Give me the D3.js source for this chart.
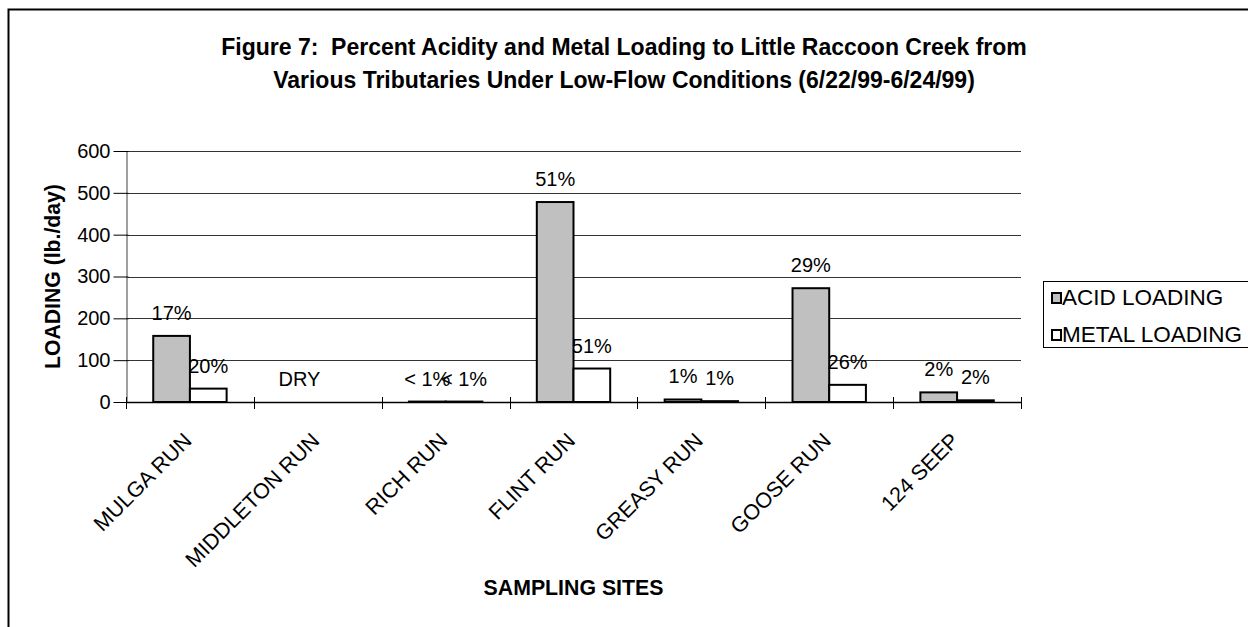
<!DOCTYPE html>
<html>
<head>
<meta charset="utf-8">
<script src="https://cdn.jsdelivr.net/npm/d3@7"></script>
<style>
  html, body { margin: 0; padding: 0; background: #fff; }
  svg { display: block; font-family: "Liberation Sans", Arial, sans-serif; }
  text { white-space: pre; }
</style>
</head>
<body>
<svg id="chart" width="1248" height="627"></svg>
<script>
// Sampling sites along Little Raccoon Creek
const sites = ["MULGA RUN", "MIDDLETON RUN", "RICH RUN", "FLINT RUN", "GREASY RUN", "GOOSE RUN", "124 SEEP"];
// Loadings in lb./day
const acidLoading = [158, 0, 1, 478, 6, 272, 23];
const metalLoading = [32, 0, 1, 80, 2, 41, 4];
// Percent-of-total labels shown above each bar
const acidLabels = ["17%", "DRY", "< 1%", "51%", "1%", "29%", "2%"];
const metalLabels = ["20%", "", "< 1%", "51%", "1%", "26%", "2%"];
const yTicks = [0, 100, 200, 300, 400, 500, 600];
const seriesNames = ["ACID LOADING", "METAL LOADING"];
const seriesFill = ["#c0c0c0", "#ffffff"];

const svg = d3.select("#chart");
const plot = { left: 126, right: 1021, top: 151, bottom: 402 };

// outer chart frame
svg.append("rect")
  .attr("x", 8.5).attr("y", 9.5)
  .attr("width", 1260).attr("height", 640)
  .attr("fill", "none").attr("stroke", "#000").attr("stroke-width", 2);

// title
const title = svg.append("text")
  .attr("text-anchor", "middle")
  .attr("font-weight", "bold")
  .attr("font-size", 23);
title.append("tspan").attr("x", 624).attr("y", 55)
  .text("Figure 7:  Percent Acidity and Metal Loading to Little Raccoon Creek from");
title.append("tspan").attr("x", 624).attr("y", 88)
  .text("Various Tributaries Under Low-Flow Conditions (6/22/99-6/24/99)");

const x = d3.scaleBand().domain(sites).range([plot.left, plot.right]).padding(0);
const y = d3.scaleLinear().domain([0, 600]).range([plot.bottom, plot.top]);
const step = x.bandwidth();
const barW = step * 0.287;
const groupOffset = (step - 2 * barW) / 2;

// gridlines
svg.append("g")
  .selectAll("line")
  .data(yTicks.filter(d => d > 0))
  .join("line")
  .attr("x1", plot.left).attr("x2", plot.right)
  .attr("y1", d => Math.round(y(d)) + 0.5).attr("y2", d => Math.round(y(d)) + 0.5)
  .attr("stroke", "#333").attr("stroke-width", 1);

// y axis
const yAxis = svg.append("g")
  .attr("transform", `translate(${plot.left + 0.5},0)`)
  .call(d3.axisLeft(y).tickValues(yTicks).tickSize(0).tickPadding(16));
yAxis.select(".domain").attr("stroke", "#808080").attr("stroke-width", 1.5);
yAxis.selectAll(".tick text")
  .attr("font-size", 20).attr("fill", "#000")
  .attr("font-family", "Liberation Sans, Arial, sans-serif");
yAxis.selectAll(".tick").append("line")
  .attr("x1", -13).attr("x2", 2).attr("stroke", "#000");

// bars
const rows = sites.map((s, i) => ({ site: s, values: [acidLoading[i], metalLoading[i]], labels: [acidLabels[i], metalLabels[i]] }));
const groups = svg.append("g").selectAll("g")
  .data(rows)
  .join("g")
  .attr("transform", d => `translate(${x(d.site) + groupOffset},0)`);

groups.selectAll("rect")
  .data(d => d.values.map((v, k) => ({ v, k })))
  .join("rect")
  .filter(d => d.v > 0)
  .attr("x", d => d.k * barW)
  .attr("y", d => y(d.v))
  .attr("width", barW)
  .attr("height", d => y(0) - y(d.v))
  .attr("fill", d => seriesFill[d.k])
  .attr("stroke", "#000")
  .attr("stroke-width", 2);

// data labels
groups.selectAll("text")
  .data(d => d.labels.map((t, k) => ({ t, k, v: d.values[k] })))
  .join("text")
  .attr("x", d => d.k * barW + barW / 2)
  .attr("y", d => y(d.v) - 16)
  .attr("text-anchor", "middle")
  .attr("font-size", 20)
  .text(d => d.t);

// x axis line and category ticks
svg.append("line")
  .attr("x1", plot.left).attr("x2", plot.right)
  .attr("y1", plot.bottom + 0.5).attr("y2", plot.bottom + 0.5)
  .attr("stroke", "#000").attr("stroke-width", 1.5);
const boundaries = sites.map(s => x(s)).concat([plot.right]);
svg.append("g").selectAll("line")
  .data(boundaries)
  .join("line")
  .attr("x1", d => Math.round(d) + 0.5).attr("x2", d => Math.round(d) + 0.5)
  .attr("y1", plot.bottom - 5).attr("y2", plot.bottom + 7)
  .attr("stroke", "#000");

// rotated category labels
svg.append("g").selectAll("text")
  .data(sites)
  .join("text")
  .attr("transform", d => `translate(${x(d) + step / 2 + 3},442) rotate(-45)`)
  .attr("text-anchor", "end")
  .attr("font-size", 21.5)
  .text(d => d);

// axis titles
svg.append("text")
  .attr("x", (plot.left + plot.right) / 2).attr("y", 595)
  .attr("text-anchor", "middle").attr("font-weight", "bold").attr("font-size", 21.3)
  .text("SAMPLING SITES");
svg.append("text")
  .attr("transform", `translate(60,${(plot.top + plot.bottom) / 2}) rotate(-90)`)
  .attr("text-anchor", "middle").attr("font-weight", "bold").attr("font-size", 21.2)
  .text("LOADING (lb./day)");

// legend
const legend = svg.append("g");
legend.append("rect")
  .attr("x", 1043.5).attr("y", 281.5).attr("width", 210).attr("height", 66)
  .attr("fill", "#fff").attr("stroke", "#000").attr("stroke-width", 1);
const items = legend.selectAll("g.item")
  .data(seriesNames)
  .join("g")
  .attr("class", "item")
  .attr("transform", (d, i) => `translate(1051,${292 + i * 37})`);
items.append("rect")
  .attr("x", 1).attr("y", 1).attr("width", 9).attr("height", 10)
  .attr("fill", (d, i) => seriesFill[i]).attr("stroke", "#000").attr("stroke-width", 2);
items.append("text")
  .attr("x", 11).attr("y", 13)
  .attr("font-size", 22.5)
  .text(d => d);
</script>
</body>
</html>
